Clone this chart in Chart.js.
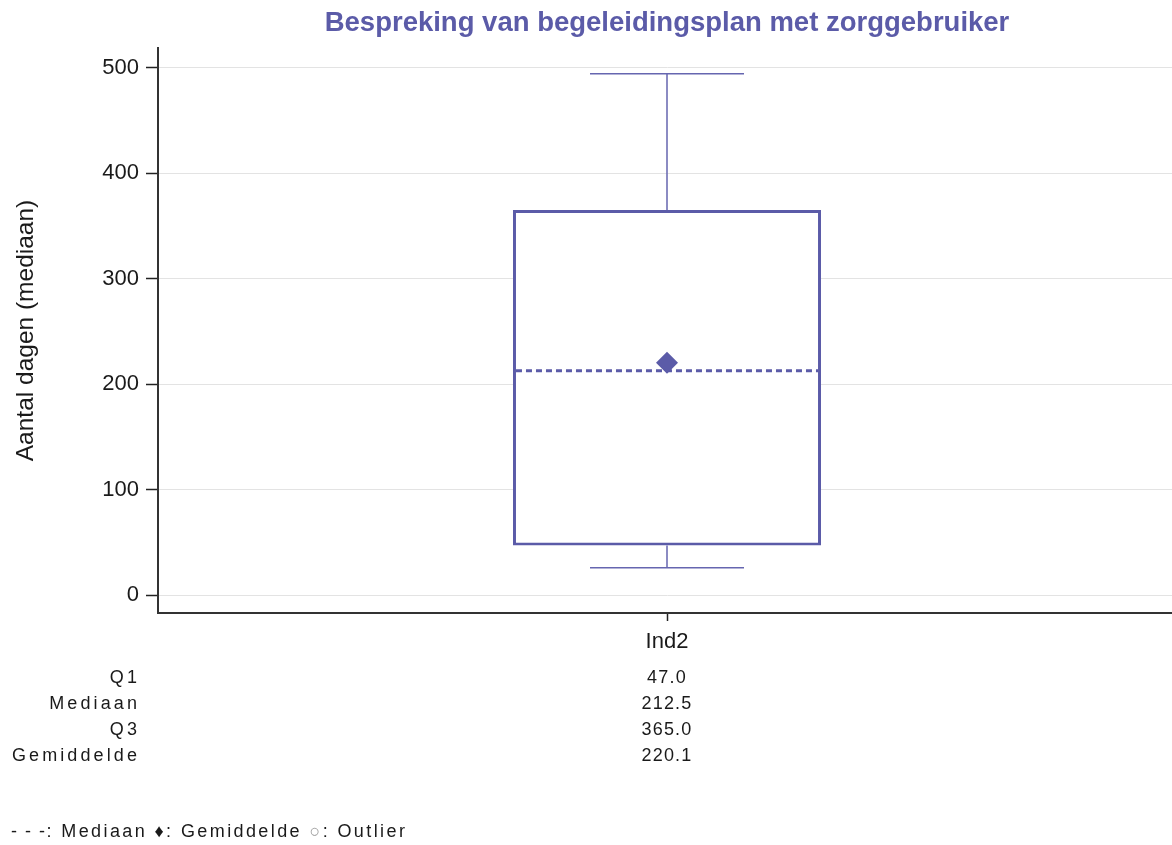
<!DOCTYPE html>
<html><head><meta charset="utf-8">
<script src="https://cdn.jsdelivr.net/npm/chart.js@4.4.1/dist/chart.umd.min.js"></script>
<style>
html,body{margin:0;padding:0;background:#fff;}
#wrap{position:relative;width:1172px;height:845px;overflow:hidden;font-family:"Liberation Sans",Arial,sans-serif;color:#1a1a1a;}
canvas{position:absolute;left:0;top:0;}
.stat{position:absolute;font-size:18px;line-height:26px;white-space:nowrap;}
#labels{left:0;width:140px;text-align:right;top:664px;letter-spacing:3.1px;}
#values{top:664px;width:120px;text-align:center;letter-spacing:1.2px;}
#legend{position:absolute;left:11px;top:820px;font-size:18px;line-height:22px;letter-spacing:2.4px;white-space:nowrap;}
#legend .d{letter-spacing:1.5px;}
</style></head>
<body><div id="wrap"><canvas id="c" width="1176" height="845"></canvas>
<div id="labels" class="stat"></div><div id="values" class="stat"></div><div id="legend"></div></div>
<script>
const titleText = 'Bespreking van begeleidingsplan met zorggebruiker';
const yAxisTitle = 'Aantal dagen (mediaan)';
const categories = ['Ind2'];
const q1Values = [47.0];
const medianValues = [212.5];
const q3Values = [365.0];
const meanValues = [220.1];
const minValues = [26];
const maxValues = [494];
const statLabels = ['Q1', 'Mediaan', 'Q3', 'Gemiddelde'];
const statSeries = [q1Values, medianValues, q3Values, meanValues];

const C = '#5b5ba8';
const FONT = '"Liberation Sans", Arial, sans-serif';

document.getElementById('labels').innerHTML = statLabels.join('<br>');
document.getElementById('values').innerHTML = statSeries.map(s => s[0].toFixed(1)).join('<br>');
document.getElementById('legend').innerHTML =
  '<span class="d">- - -</span>: Mediaan \u2666: Gemiddelde <span style="color:#999">\u25CB</span>: Outlier';

const boxPlugin = {
  id: 'boxParts',
  beforeDatasetsDraw(chart) {
    const ctx = chart.ctx, y = chart.scales.y;
    const meta = chart.getDatasetMeta(0);
    ctx.save();
    ctx.strokeStyle = '#6666b0';
    ctx.lineWidth = 1.5;
    meta.data.forEach((bar, i) => {
      const half = bar.width * 0.25;
      const yMax = y.getPixelForValue(maxValues[i]);
      const yQ3 = y.getPixelForValue(q3Values[i]);
      const yMin = y.getPixelForValue(minValues[i]);
      const yQ1 = y.getPixelForValue(q1Values[i]);
      ctx.beginPath();
      ctx.moveTo(bar.x, yMax); ctx.lineTo(bar.x, yQ3);
      ctx.moveTo(bar.x, yQ1); ctx.lineTo(bar.x, yMin);
      ctx.moveTo(bar.x - half, yMax); ctx.lineTo(bar.x + half, yMax);
      ctx.moveTo(bar.x - half, yMin); ctx.lineTo(bar.x + half, yMin);
      ctx.stroke();
    });
    ctx.restore();
  },
  afterDatasetDraw(chart, args) {
    if (args.index !== 0) return;
    const ctx = chart.ctx, y = chart.scales.y;
    ctx.save();
    ctx.strokeStyle = C;
    ctx.lineWidth = 3;
    ctx.setLineDash([6, 4]);
    args.meta.data.forEach((bar, i) => {
      const yM = y.getPixelForValue(medianValues[i]);
      ctx.beginPath();
      ctx.moveTo(bar.x - bar.width / 2 + 3, yM);
      ctx.lineTo(bar.x + bar.width / 2 - 3, yM);
      ctx.stroke();
    });
    ctx.restore();
  },
  afterDraw(chart) {
    const ctx = chart.ctx, a = chart.chartArea;
    ctx.save();
    ctx.font = 'bold 27.5px ' + FONT;
    ctx.fillStyle = C;
    ctx.textAlign = 'center';
    ctx.textBaseline = 'alphabetic';
    ctx.fillText(titleText, (a.left + a.right) / 2, 31);
    ctx.restore();
    const v = document.getElementById('values');
    v.style.left = (chart.scales.x.getPixelForValue(0) - 60) + 'px';
  }
};

new Chart(document.getElementById('c'), {
  data: {
    labels: categories,
    datasets: [
      {
        type: 'bar',
        data: q1Values.map((q, i) => [q, q3Values[i]]),
        backgroundColor: '#ffffff',
        borderColor: C,
        borderWidth: 3,
        borderSkipped: false,
        barPercentage: 0.3026,
        categoryPercentage: 1,
        order: 0
      },
      {
        type: 'line',
        data: meanValues,
        showLine: false,
        pointStyle: 'rectRot',
        pointRadius: 11,
        pointBackgroundColor: C,
        pointBorderColor: C,
        pointBorderWidth: 0,
        order: -1
      }
    ]
  },
  options: {
    responsive: false,
    animation: false,
    layout: { autoPadding: false, padding: { top: 48, bottom: 182, left: 0, right: 0 } },
    plugins: { legend: { display: false }, tooltip: { enabled: false }, title: { display: false } },
    scales: {
      x: {
        offset: true,
        grid: { display: true, offset: false, drawOnChartArea: false, drawTicks: true, tickLength: 8, tickColor: '#222', tickWidth: 1.5 },
        border: { display: true, color: '#333', width: 2 },
        ticks: { font: { family: FONT, size: 22 }, color: '#1a1a1a', padding: 8 },
        afterFit(s) { s.height = 50; s.paddingLeft = 0; s.paddingRight = 0; }
      },
      y: {
        min: -17,
        max: 518.5,
        grid: { color: '#e3e3e3', lineWidth: 1, tickLength: 12, tickColor: '#222', tickWidth: 1.5 },
        border: { display: true, color: '#333', width: 2 },
        ticks: { stepSize: 100, includeBounds: false, font: { family: FONT, size: 22 }, color: '#1a1a1a', padding: 7 },
        title: { display: true, text: yAxisTitle, font: { family: FONT, size: 24.5 }, color: '#1a1a1a', padding: { top: 12, bottom: 0 } },
        afterFit(s) { s.width = 158; s.paddingTop = 0; s.paddingBottom = 0; }
      }
    }
  },
  plugins: [boxPlugin]
});
</script>
</body></html>
